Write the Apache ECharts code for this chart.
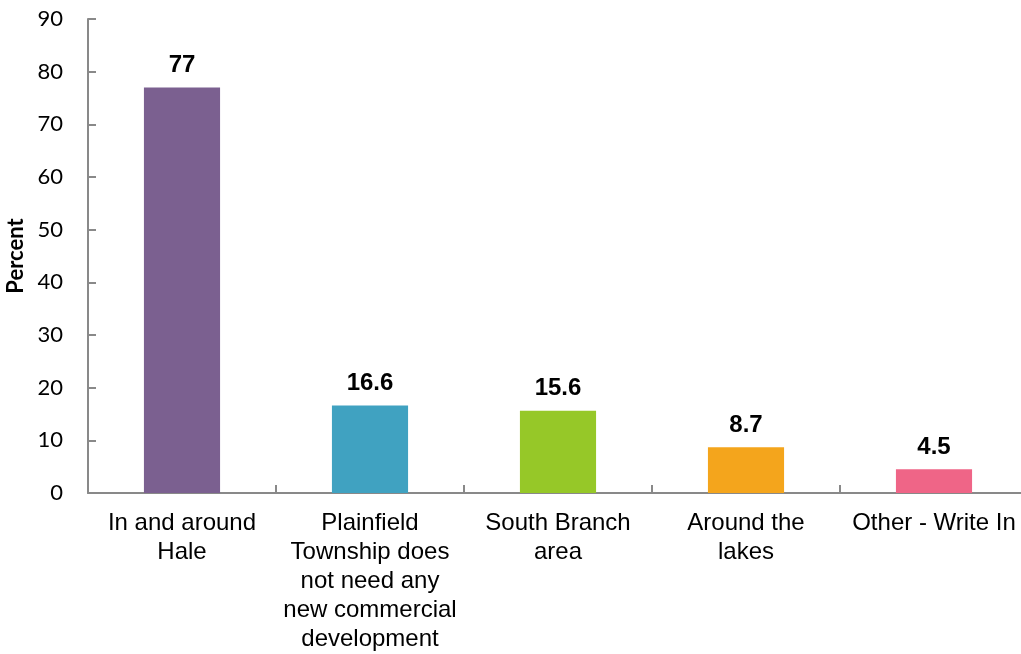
<!DOCTYPE html>
<html>
<head>
<meta charset="utf-8">
<script src="https://cdn.jsdelivr.net/npm/echarts@6/dist/echarts.min.js"></script>
<style>html,body{margin:0;padding:0;background:#fff}#c{width:1021px;height:654px}</style>
</head>
<body>
<div id="c"></div>
<script>
const categories = ["In and around\nHale", "Plainfield\nTownship does\nnot need any\nnew commercial\ndevelopment", "South Branch\narea", "Around the\nlakes", "Other - Write In"];
const values = [77, 16.6, 15.6, 8.7, 4.5];
const colors = ["#7B6090", "#40A2C1", "#96C828", "#F4A51C", "#EF6587"];
const yTicks = { min: 0, max: 90, interval: 10 };

const chart = echarts.init(document.getElementById('c'), null, { renderer: 'canvas' });
chart.setOption({
  animation: false,
  backgroundColor: '#fff',
  grid: { left: 88, right: -7, top: 19, bottom: 161, containLabel: false, outerBoundsMode: 'none' },
  xAxis: {
    type: 'category',
    data: categories,
    axisLine: { lineStyle: { color: '#898989', width: 2 } },
    axisTick: { show: true, inside: true, length: 8, alignWithLabel: false, lineStyle: { color: '#898989', width: 2 } },
    axisLabel: { color: '#000', fontFamily: 'Liberation Sans', fontSize: 24, lineHeight: 29, margin: 16, interval: 0 }
  },
  yAxis: {
    type: 'value',
    min: yTicks.min, max: yTicks.max, interval: yTicks.interval,
    name: 'Percent', nameLocation: 'middle', nameGap: 60, nameRotate: 90,
    nameTextStyle: { color: '#000', fontFamily: 'Lato', fontWeight: 'bold', fontSize: 22 },
    axisLine: { show: true, lineStyle: { color: '#898989', width: 2 } },
    axisTick: { show: true, inside: true, length: 8, lineStyle: { color: '#898989', width: 2 } },
    splitLine: { show: false },
    axisLabel: { color: '#000', fontFamily: 'Lato', fontSize: 22, margin: 25 }
  },
  series: [{
    type: 'bar',
    data: values.map((v, i) => ({ value: v, itemStyle: { color: colors[i] } })),
    barWidth: '40.5%',
    label: { show: true, position: 'top', distance: 10, color: '#000', fontFamily: 'Liberation Sans', fontWeight: 'bold', fontSize: 24 }
  }]
});
</script>
</body>
</html>
